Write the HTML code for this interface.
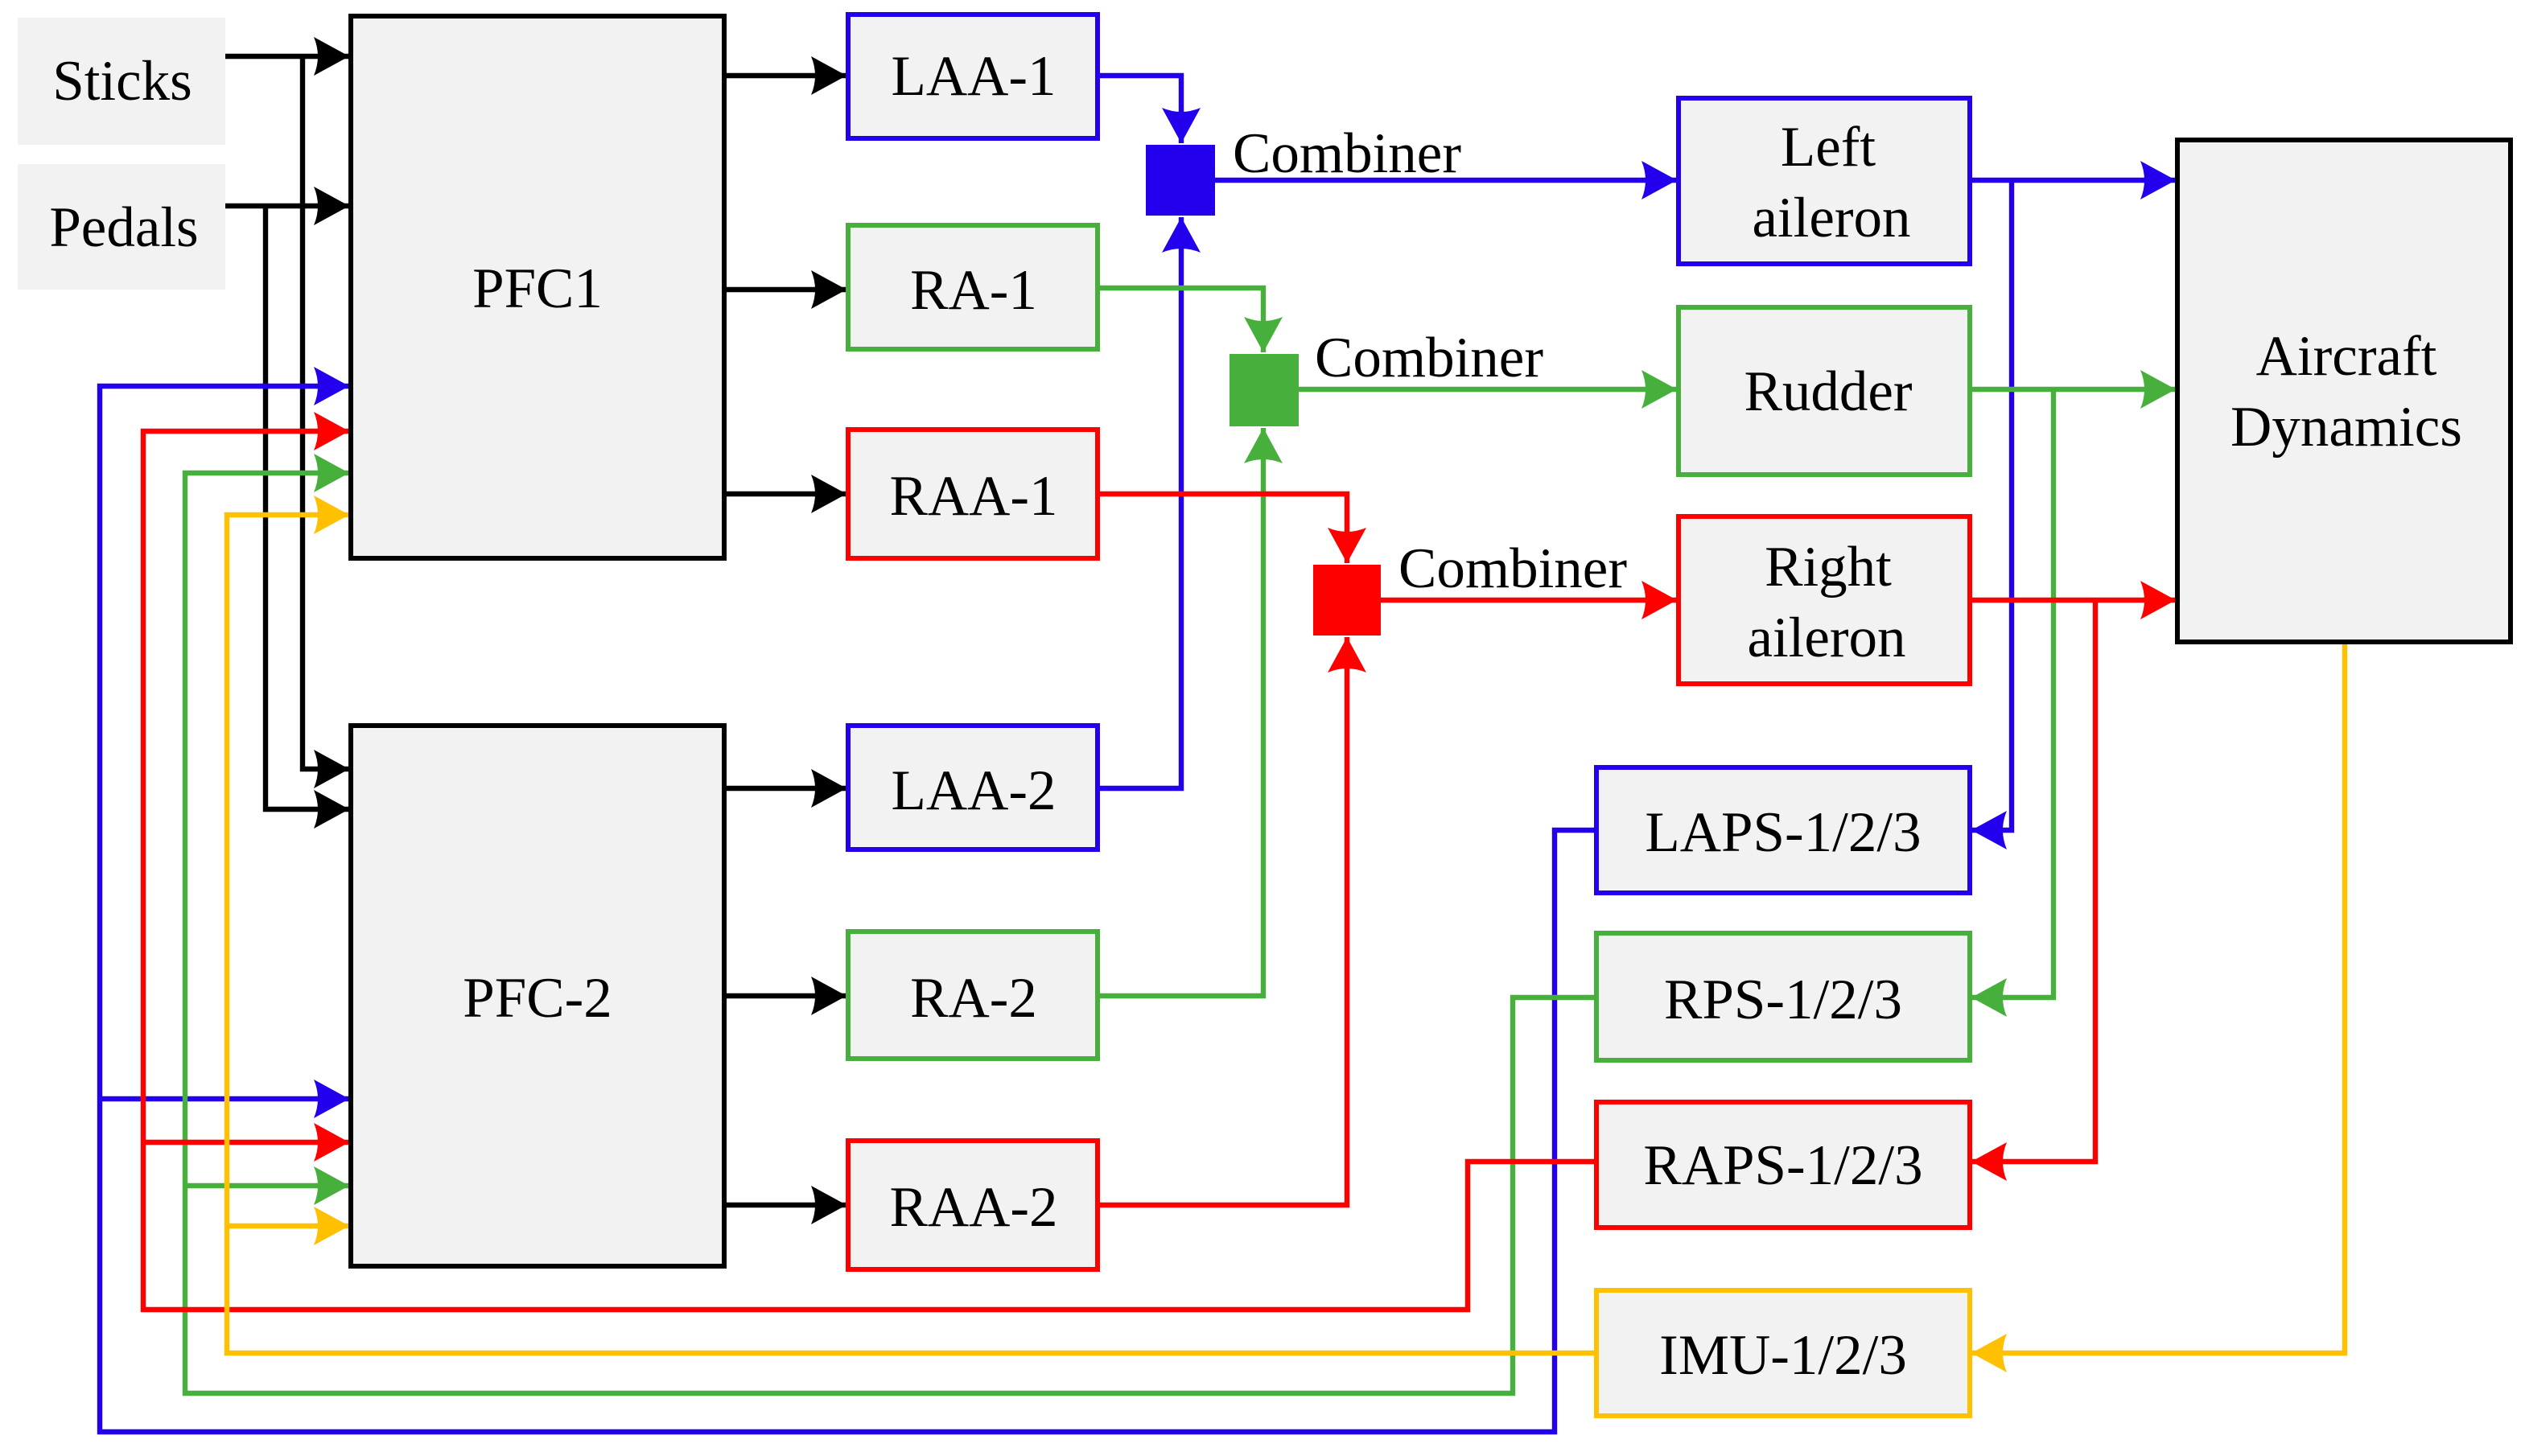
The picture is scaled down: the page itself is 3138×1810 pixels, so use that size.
<!DOCTYPE html>
<html><head><meta charset="utf-8"><style>html,body{margin:0;padding:0;background:#fff}svg{display:block}text{font-family:"Liberation Serif","Times New Roman",serif;font-size:35.5px;fill:#000}</style></head><body>
<svg width="3138" height="1810" viewBox="0 0 1569 905" xmlns="http://www.w3.org/2000/svg">
<defs>
<marker id="k" markerUnits="userSpaceOnUse" markerWidth="24" markerHeight="26" refX="22" refY="12" orient="auto"><path d="M0,0 L22,12 L0,24 Q5,12 0,0Z" fill="#000"/></marker>
<marker id="b" markerUnits="userSpaceOnUse" markerWidth="24" markerHeight="26" refX="22" refY="12" orient="auto"><path d="M0,0 L22,12 L0,24 Q5,12 0,0Z" fill="#2200ee"/></marker>
<marker id="g" markerUnits="userSpaceOnUse" markerWidth="24" markerHeight="26" refX="22" refY="12" orient="auto"><path d="M0,0 L22,12 L0,24 Q5,12 0,0Z" fill="#47b03c"/></marker>
<marker id="r" markerUnits="userSpaceOnUse" markerWidth="24" markerHeight="26" refX="22" refY="12" orient="auto"><path d="M0,0 L22,12 L0,24 Q5,12 0,0Z" fill="#ff0000"/></marker>
<marker id="y" markerUnits="userSpaceOnUse" markerWidth="24" markerHeight="26" refX="22" refY="12" orient="auto"><path d="M0,0 L22,12 L0,24 Q5,12 0,0Z" fill="#ffc000"/></marker>
</defs>
<g fill="none" stroke-width="3.2">
<g stroke="#000">
<path d="M140,35 H217" marker-end="url(#k)"/>
<path d="M140,128 H217" marker-end="url(#k)"/>
<path d="M188,35 V478 H217" marker-end="url(#k)"/>
<path d="M165,128 V503 H217" marker-end="url(#k)"/>
<path d="M450,47 H526" marker-end="url(#k)"/>
<path d="M450,180 H526" marker-end="url(#k)"/>
<path d="M450,307 H526" marker-end="url(#k)"/>
<path d="M450,490 H526" marker-end="url(#k)"/>
<path d="M450,619 H526" marker-end="url(#k)"/>
<path d="M450,749 H526" marker-end="url(#k)"/>
<path d="M1457,399 V841 H1225" stroke="#ffc000" marker-end="url(#y)"/>
</g>
<g stroke="#2200ee">
<path d="M682,47 H734 V89" marker-end="url(#b)"/>
<path d="M682,490 H734 V135" marker-end="url(#b)"/>
<path d="M755,112 H1042" marker-end="url(#b)"/>
<path d="M1224,112 H1352" marker-end="url(#b)"/>
<path d="M1250,112 V516 H1225" marker-end="url(#b)"/>
<path d="M992,516 H966 V890 H62 V240 H217" marker-end="url(#b)"/>
<path d="M62,683 H217" marker-end="url(#b)"/>
</g>
<g stroke="#47b03c">
<path d="M682,179 H785 V219" marker-end="url(#g)"/>
<path d="M682,619 H785 V266" marker-end="url(#g)"/>
<path d="M807,242 H1042" marker-end="url(#g)"/>
<path d="M1224,242 H1352" marker-end="url(#g)"/>
<path d="M1276,242 V620 H1225" marker-end="url(#g)"/>
<path d="M992,620 H940 V866 H115 V294 H217" marker-end="url(#g)"/>
<path d="M115,737 H217" marker-end="url(#g)"/>
</g>
<g stroke="#ff0000">
<path d="M682,307 H837 V350" marker-end="url(#r)"/>
<path d="M682,749 H837 V396" marker-end="url(#r)"/>
<path d="M858,373 H1042" marker-end="url(#r)"/>
<path d="M1224,373 H1352" marker-end="url(#r)"/>
<path d="M1302,373 V722 H1225" marker-end="url(#r)"/>
<path d="M992,722 H912 V814 H89 V268 H217" marker-end="url(#r)"/>
<path d="M89,710 H217" marker-end="url(#r)"/>
</g>
<g stroke="#ffc000">
<path d="M992,841 H141 V320 H217" marker-end="url(#y)"/>
<path d="M141,762 H217" marker-end="url(#y)"/>
</g>
</g>
<rect x="11" y="11" width="129" height="79" fill="#f2f2f2"/>
<rect x="11" y="102" width="129" height="78" fill="#f2f2f2"/>
<g stroke-width="3" fill="#f2f2f2">
<rect x="218" y="10" width="232" height="337" stroke="#000"/>
<rect x="218" y="451" width="232" height="336" stroke="#000"/>
<rect x="527" y="9" width="155" height="77" stroke="#2200ee"/>
<rect x="527" y="140" width="155" height="77" stroke="#47b03c"/>
<rect x="527" y="267" width="155" height="80" stroke="#ff0000"/>
<rect x="527" y="451" width="155" height="77" stroke="#2200ee"/>
<rect x="527" y="579" width="155" height="79" stroke="#47b03c"/>
<rect x="527" y="709" width="155" height="80" stroke="#ff0000"/>
<rect x="1043" y="61" width="181" height="103" stroke="#2200ee"/>
<rect x="1043" y="191" width="181" height="104" stroke="#47b03c"/>
<rect x="1043" y="321" width="181" height="104" stroke="#ff0000"/>
<rect x="1353" y="87" width="207" height="312" stroke="#000"/>
<rect x="992" y="477" width="232" height="78" stroke="#2200ee"/>
<rect x="992" y="580" width="232" height="79" stroke="#47b03c"/>
<rect x="992" y="685" width="232" height="78" stroke="#ff0000"/>
<rect x="992" y="802" width="232" height="78" stroke="#ffc000"/>
</g>
<rect x="712" y="90" width="43" height="44" fill="#2200ee"/>
<rect x="764" y="220" width="43" height="45" fill="#47b03c"/>
<rect x="816" y="351" width="42" height="44" fill="#ff0000"/>
<g text-anchor="middle">
<text x="76" y="62">Sticks</text>
<text x="77" y="153">Pedals</text>
<text x="334" y="191">PFC1</text>
<text x="334" y="632">PFC-2</text>
<text x="605" y="59">LAA-1</text>
<text x="605" y="192">RA-1</text>
<text x="605" y="320">RAA-1</text>
<text x="605" y="503">LAA-2</text>
<text x="605" y="632">RA-2</text>
<text x="605" y="762">RAA-2</text>
<text x="1136" y="103">Left</text>
<text x="1138" y="147">aileron</text>
<text x="1136" y="255">Rudder</text>
<text x="1136" y="364">Right</text>
<text x="1135" y="408">aileron</text>
<text x="1458" y="233">Aircraft</text>
<text x="1458" y="277">Dynamics</text>
<text x="1108" y="529">LAPS-1/2/3</text>
<text x="1108" y="633">RPS-1/2/3</text>
<text x="1108" y="736">RAPS-1/2/3</text>
<text x="1108" y="854">IMU-1/2/3</text>
</g>
<text x="766" y="107">Combiner</text>
<text x="817" y="234">Combiner</text>
<text x="869" y="365">Combiner</text>
</svg>
</body></html>
